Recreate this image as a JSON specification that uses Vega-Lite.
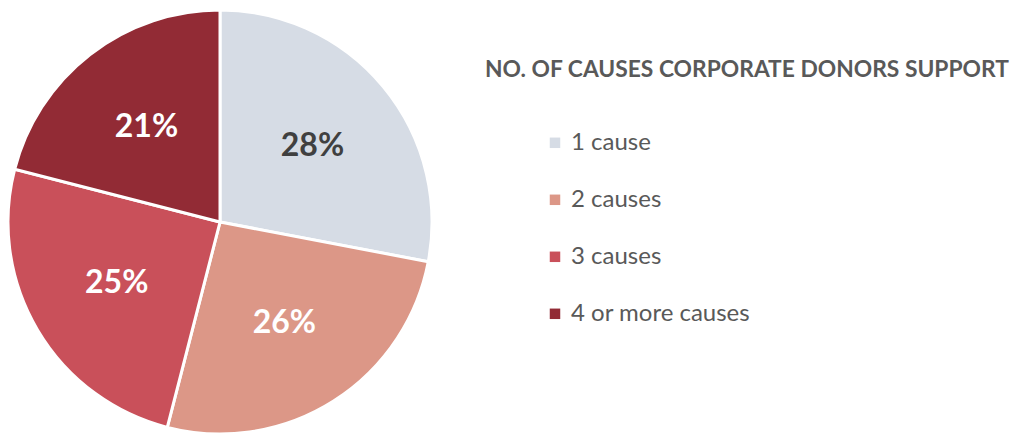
{
  "$schema": "https://vega.github.io/schema/vega-lite/v6.json",
  "width": 440,
  "height": 444,
  "autosize": "pad",
  "padding": 0,
  "background": "white",
  "config": {"view": {"stroke": null}, "font": "Lato"},
  "data": {"values": [
    {"cause": "1 cause", "pct": 28, "label": "28%", "ord": 1},
    {"cause": "2 causes", "pct": 26, "label": "26%", "ord": 2},
    {"cause": "3 causes", "pct": 25, "label": "25%", "ord": 3},
    {"cause": "4 or more causes", "pct": 21, "label": "21%", "ord": 4}
  ]},
  "encoding": {
    "theta": {"field": "pct", "type": "quantitative", "stack": true},
    "order": {"field": "ord", "type": "quantitative"}
  },
  "layer": [
    {
      "mark": {"type": "arc", "outerRadius": 212, "stroke": "white", "strokeWidth": 3},
      "encoding": {
        "color": {
          "field": "cause", "type": "nominal",
          "scale": {"domain": ["1 cause", "2 causes", "3 causes", "4 or more causes"],
                    "range": ["#d6dce5", "#dc9787", "#c9505a", "#922b35"]},
          "legend": {
            "orient": "none", "legendX": 485, "legendY": 59,
            "title": "NO. OF CAUSES CORPORATE DONORS SUPPORT",
            "titleFont": "Lato", "titleFontSize": 22.8, "titleFontWeight": "bold", "titleColor": "#595959",
            "titlePadding": 49, "titleLimit": 600,
            "symbolType": "square", "symbolSize": 110, "symbolStrokeWidth": 0, "symbolOffset": 58,
            "labelFont": "Lato", "labelFontSize": 24, "labelColor": "#595959", "labelOffset": 4,
            "rowPadding": 33, "labelLimit": 400
          }
        }
      }
    },
    {
      "mark": {"type": "text", "radius": 120, "font": "Lato", "fontSize": 32, "fontWeight": "bold"},
      "encoding": {
        "text": {"field": "label"},
        "color": {
          "condition": {"test": "datum.ord == 1", "value": "#404040"},
          "value": "white"
        }
      }
    }
  ]
}
